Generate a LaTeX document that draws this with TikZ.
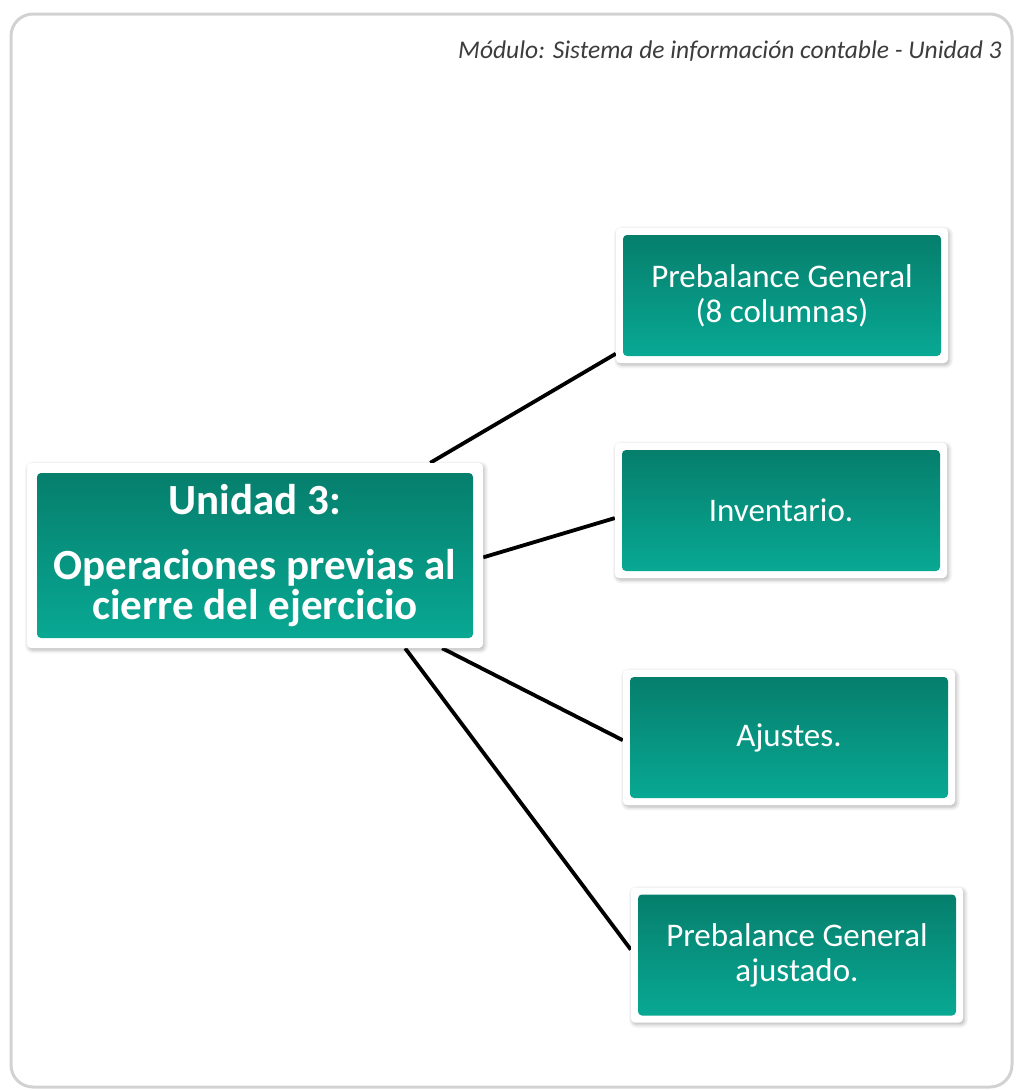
\documentclass[tikz,border=0pt]{standalone}
\usepackage{fontspec}
\setmainfont{Carlito}
\usetikzlibrary{calc,backgrounds,shadows.blur}

\definecolor{gtop}{RGB}{6,124,106}
\definecolor{gbot}{RGB}{8,171,150}
\definecolor{frameg}{RGB}{210,210,210}
\definecolor{hdrcol}{RGB}{60,60,60}

\begin{document}
\begin{tikzpicture}[x=1pt,y=-1pt,
  card/.style={rectangle, rounded corners=4pt, fill=white, inner sep=0pt, text=white, align=center,
    blur shadow={shadow xshift=1.5pt, shadow yshift=-2pt, shadow blur steps=6, shadow blur radius=4pt, shadow opacity=30},
    path picture={\shade[top color=gtop, bottom color=gbot] ([xshift=#1,yshift=-#1]path picture bounding box.north west) rectangle ([xshift=-#1,yshift=#1]path picture bounding box.south east);}},
  leaf/.style={card=7pt, minimum width=332pt, minimum height=135pt, font=\fontsize{33}{35}\selectfont},
  hub/.style={card=10pt, minimum width=456pt, minimum height=185pt, font=\bfseries\fontsize{43}{40}\selectfont},
  conn/.style={black, line width=3.8pt},
  hdrstyle/.style={anchor=base east, text=hdrcol, inner sep=0pt, font=\itshape\fontsize{25.5}{28}\selectfont}
]
\useasboundingbox (0,0) rectangle (1016,1090);

\node[hdrstyle] (hdr) at (1002,58) {Módulo: Sistema de información contable - Unidad 3};

\node[hub] (main) at (255,555.5) {Unidad 3:\\[25pt]Operaciones previas al\\cierre del ejercicio};
\node[leaf] (b1) at (782,295.5) {Prebalance General\\(8 columnas)};
\node[leaf] (b2) at (781,510.5) {Inventario.};
\node[leaf] (b3) at (789,737.5) {Ajustes.};
\node[leaf] (b4) at (797,955) {Prebalance General\\ajustado.};

\begin{scope}[on background layer]
\draw[frameg, line width=3pt, rounded corners=22pt] (11,14) rectangle (1012,1087);
\draw[conn] ($(main.north west)!0.884!(main.north east)$) -- ($(b1.north west)!0.93!(b1.south west)$);
\draw[conn] ($(main.north east)!0.51!(main.south east)$) -- ($(b2.north west)!0.556!(b2.south west)$);
\draw[conn] ($(main.south west)!0.91!(main.south east)$) -- ($(b3.north west)!0.52!(b3.south west)$);
\draw[conn] ($(main.south west)!0.829!(main.south east)$) -- ($(b4.north west)!0.46!(b4.south west)$);
\end{scope}
\end{tikzpicture}
\end{document}
